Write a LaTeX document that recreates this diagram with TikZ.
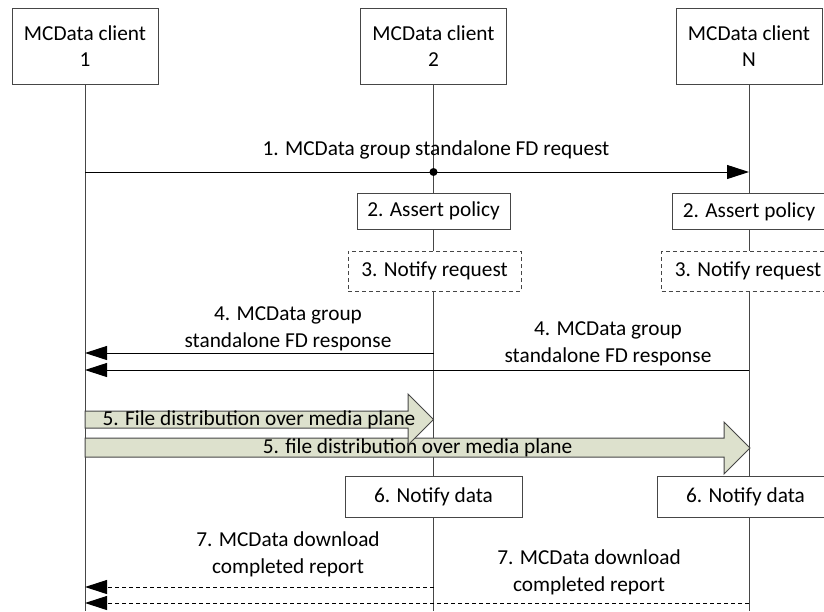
\documentclass[tikz,border=0pt]{standalone}
\usepackage{fontspec}
\setmainfont{Carlito}
\usetikzlibrary{arrows.meta}
\definecolor{blk}{RGB}{221,225,205}
\definecolor{ln}{RGB}{70,70,70}
\begin{document}
\begin{tikzpicture}[x=1pt,y=-1pt,
  every node/.style={font=\fontsize{21.3}{26.5}\selectfont, inner sep=0pt},
  hdr/.style={draw=ln, line width=1pt, fill=white, align=center, minimum width=146pt, minimum height=76pt},
  actbox/.style={draw=ln, line width=1pt, fill=white, minimum height=36pt, minimum width=153pt},
  dbox/.style={draw=ln, line width=1pt, dash pattern=on 4pt off 3pt, fill=white, minimum height=40pt, minimum width=173pt},
  databox/.style={draw=ln, line width=1pt, fill=white, minimum height=41pt, minimum width=177pt},
  life/.style={draw=ln, line width=1pt},
  msg/.style={draw=black, line width=1pt, -{Triangle[length=22pt,width=14pt]}},
  rep/.style={msg, dash pattern=on 4pt off 3pt},
  lbl/.style={align=center},
  blkarrow/.style={draw=ln, line width=1pt, fill=blk}]
\useasboundingbox (0,0) rectangle (824,611);
\clip (0,0) rectangle (824,611);

% headers
\node[hdr] (c1) at (85,46) {MCData client\\1};
\node[hdr] (c2) at (433.5,46) {MCData client\\2};
\node[hdr] (cN) at (749,46) {MCData client\\N};

\coordinate (e1) at (85,611);
\coordinate (e2) at (433.5,611);
\coordinate (eN) at (749,611);
\draw[life] (c1.south) -- (e1);
\draw[life] (c2.south) -- (e2);
\draw[life] (cN.south) -- (eN);

% 1
\coordinate (m1s) at (85,172);
\coordinate (m1d) at (433.5,172);
\coordinate (m1e) at (749,172);
\draw[msg] (m1s) -- (m1e);
\fill (m1d) circle (4pt);
\node[lbl] (l1) at (436,150) {1. MCData group standalone FD request};

% 2, 3
\node[actbox] (a2) at (433.5,211) {2. Assert policy};
\node[actbox] (aN) at (749,211.5) {2. Assert policy};
\node[dbox] (n2) at (434.5,271) {3. Notify request};
\node[dbox] (nN) at (748,271) {3. Notify request};

% 4
\coordinate (m4as) at (433.5,353);
\coordinate (m4ae) at (85,353);
\coordinate (m4bs) at (749,370);
\coordinate (m4be) at (85,370);
\draw[msg] (m4as) -- (m4ae);
\draw[msg] (m4bs) -- (m4be);
\node[lbl] (l4a) at (288,329) {4. MCData group\\standalone FD response};
\node[lbl] (l4b) at (608,344) {4. MCData group\\standalone FD response};

% 5
\draw[blkarrow] (85,438) -- (724,438) -- (724,422) -- (750,448) -- (724,474) -- (724,457) -- (85,457) -- cycle;
\node (l5b) at (417.5,448) {5. file distribution over media plane};
\draw[blkarrow] (85,411) -- (408,411) -- (408,394) -- (433.5,419.5) -- (408,445) -- (408,428) -- (85,428) -- cycle;
\node (l5a) at (259,419.5) {5. File distribution over media plane};

% 6
\node[databox] (d2) at (433.5,496.5) {6. Notify data};
\node[databox] (dN) at (745.5,496.5) {6. Notify data};

% 7
\coordinate (m7as) at (433.5,587);
\coordinate (m7ae) at (85,587);
\coordinate (m7bs) at (749,603);
\coordinate (m7be) at (85,603);
\draw[rep] (m7as) -- (m7ae);
\draw[rep] (m7bs) -- (m7be);
\node[lbl] (l7a) at (288,554.5) {7. MCData download\\completed report};
\node[lbl] (l7b) at (589,572.5) {7. MCData download\\completed report};
\end{tikzpicture}
\end{document}
